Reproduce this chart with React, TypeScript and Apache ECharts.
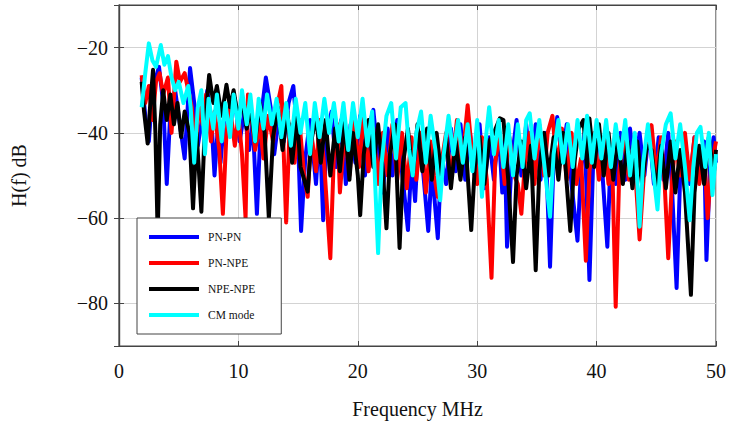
import React, { useEffect, useRef } from "react";
import * as echarts from "echarts";

// Transfer-function magnitude H(f) in dB versus frequency (MHz), as [f, dB] pairs.
const seriesNames = ["PN-PN", "PN-NPE", "NPE-NPE", "CM mode"];
const seriesColors = ["#0000ff", "#ff0000", "#000000", "#00ffff"];

const pnPn: [number, number][] = [
  [1.9, -27], [2.2, -36], [2.5, -42], [2.8, -30], [3.35, -24.5], [3.7, -33], [4.0, -52], [4.3, -35],
  [4.7, -30], [5.1, -38], [5.5, -46], [5.95, -24.8], [6.3, -33], [6.6, -43], [7.0, -36], [7.4, -30],
  [7.8, -40], [8.0, -50], [8.3, -38], [8.5, -47], [8.9, -34], [9.3, -38], [9.7, -32], [10.1, -42],
  [10.5, -35], [10.9, -44], [11.2, -37], [11.55, -59], [11.9, -36], [12.3, -27], [12.7, -34], [13.0, -45],
  [13.4, -36], [13.8, -42], [14.2, -33], [14.6, -29], [15.0, -42], [15.25, -63], [15.6, -46], [16.0, -37],
  [16.5, -52], [16.8, -38], [17.1, -60.5], [17.4, -40], [17.8, -35], [18.2, -48], [18.6, -37], [19.0, -52],
  [19.4, -38], [19.8, -47], [20.2, -36], [20.6, -50], [21.0, -38], [21.3, -34.6], [21.7, -46], [22.1, -54],
  [22.5, -39], [22.9, -50], [23.3, -37], [23.7, -49], [24.2, -62.8], [24.5, -46], [24.8, -56], [25.1, -40],
  [25.5, -50], [25.9, -63], [26.2, -48], [26.7, -64.7], [27.0, -46], [27.4, -52], [27.8, -39], [28.2, -49],
  [28.6, -38], [29.0, -51], [29.4, -40], [29.8, -50], [30.2, -38], [30.6, -53], [31.0, -41], [31.4, -51],
  [31.8, -39], [32.1, -54], [32.3, -42], [32.5, -66.7], [32.9, -46], [33.3, -37], [33.7, -50], [34.1, -38],
  [34.5, -49], [34.9, -38], [35.3, -51], [35.7, -40], [36.1, -71.4], [36.4, -46], [36.7, -36.3], [37.1, -46],
  [37.5, -38], [37.9, -52], [38.4, -65.3], [38.7, -48], [39.0, -40], [39.4, -74.5], [39.7, -48], [40.1, -39],
  [40.5, -50], [40.9, -66.7], [41.2, -44], [41.6, -52], [42.0, -40], [42.4, -51], [42.8, -39], [43.2, -49],
  [43.6, -40], [44.0, -50], [44.4, -39], [44.8, -52], [45.2, -41], [45.6, -51], [46.0, -40], [46.3, -52],
  [46.7, -76.4], [47.0, -50], [47.4, -42], [47.8, -52], [48.2, -41], [48.6, -50], [49.0, -42], [49.2, -69.8],
  [49.5, -48], [49.8, -41], [50.0, -47],
];

const pnNpe: [number, number][] = [
  [1.9, -26.5], [2.2, -33], [2.5, -29], [2.8, -37], [3.1, -28], [3.4, -26], [3.7, -31], [4.1, -27],
  [4.4, -40], [4.8, -23.3], [5.1, -28], [5.5, -26], [5.8, -30], [6.1, -34], [6.4, -45], [6.7, -33],
  [7.0, -38], [7.3, -31], [7.7, -42], [8.0, -35], [8.4, -44], [8.7, -59], [9.0, -40], [9.3, -34],
  [9.7, -43], [10.0, -36], [10.3, -45], [10.6, -60], [10.8, -31], [11.1, -36], [11.4, -44], [11.8, -38],
  [12.1, -46], [12.5, -36], [12.9, -42], [13.3, -33], [13.6, -29], [14.0, -61], [14.3, -38], [14.7, -47],
  [15.1, -37], [15.5, -50], [15.8, -55], [16.1, -40], [16.5, -49], [16.8, -37], [17.2, -48], [17.7, -69.4],
  [18.0, -45], [18.3, -38], [18.5, -54], [18.9, -40], [19.3, -50], [19.7, -37], [20.1, -48], [20.5, -36],
  [20.9, -49], [21.3, -39], [21.7, -52], [22.1, -40], [22.5, -50], [22.9, -38], [23.3, -51], [23.7, -40],
  [24.1, -53], [24.5, -41], [24.9, -51], [25.3, -40], [25.7, -54], [26.1, -42], [26.4, -50], [26.7, -55],
  [27.0, -47], [27.4, -40], [27.8, -51], [28.3, -37], [28.7, -48], [29.2, -33.5], [29.6, -46], [30.0, -52],
  [30.4, -41], [30.8, -51], [31.2, -74], [31.5, -47], [31.9, -40], [32.3, -52], [32.7, -41], [33.1, -50],
  [33.4, -52], [33.7, -59], [34.0, -47], [34.4, -40], [34.8, -52], [35.2, -38], [35.6, -50], [35.9, -40],
  [36.3, -36], [36.7, -48], [37.1, -39], [37.5, -51], [37.9, -40], [38.3, -52], [38.7, -46], [39.1, -70],
  [39.4, -49], [39.8, -40], [40.2, -51], [40.6, -41], [41.0, -52], [41.3, -46], [41.6, -80.8], [41.9, -49],
  [42.3, -40], [42.7, -51], [43.1, -43], [43.6, -65], [44.0, -48], [44.3, -40], [44.6, -38.2], [45.0, -50],
  [45.4, -41], [45.7, -52], [46.0, -69.4], [46.3, -52], [46.6, -42], [47.0, -50], [47.4, -40], [47.8, -51],
  [48.2, -41], [48.6, -52], [49.0, -44], [49.3, -60], [49.6, -48], [50.0, -42],
];

const npeNpe: [number, number][] = [
  [1.9, -28], [2.1, -35], [2.4, -42.5], [2.6, -34], [2.85, -25.2], [3.05, -40], [3.24, -64], [3.45, -38],
  [3.7, -30], [4.0, -37], [4.3, -31], [4.6, -38], [4.9, -33], [5.2, -41], [5.5, -35], [5.9, -40],
  [6.2, -57.7], [6.5, -40], [6.9, -58.5], [7.2, -38], [7.55, -26.4], [7.9, -33], [8.2, -29], [8.6, -36],
  [9.0, -28.7], [9.3, -34], [9.6, -30], [10.0, -37], [10.3, -32], [10.7, -39], [11.0, -34], [11.4, -42],
  [11.8, -33], [12.2, -40], [12.55, -60], [12.9, -41], [13.3, -34], [13.7, -44], [14.1, -35], [14.5, -47],
  [14.9, -36], [15.2, -48], [15.8, -53.8], [16.1, -42], [16.5, -36], [16.9, -47], [17.3, -37], [17.7, -50],
  [18.1, -39], [18.5, -49], [18.9, -37], [19.3, -51], [19.6, -40], [20.0, -50], [20.2, -59.3], [20.5, -45],
  [20.9, -37], [21.3, -48], [21.7, -38], [22.1, -49], [22.4, -62.4], [22.7, -45], [23.1, -38], [23.5, -67],
  [23.8, -47], [24.2, -39], [24.6, -50], [25.0, -38], [25.4, -49], [25.8, -39], [26.2, -51], [26.6, -40],
  [27.0, -50], [27.4, -41], [27.8, -53], [28.2, -42], [28.6, -51], [29.0, -41], [29.5, -62.8], [29.8, -48],
  [30.2, -41], [30.6, -52], [31.0, -42], [31.4, -40], [31.9, -36.6], [32.2, -37], [32.6, -51], [33.0, -70.3],
  [33.3, -50], [33.7, -42], [34.1, -53], [34.5, -43], [34.9, -72.2], [35.2, -49], [35.6, -40], [36.0, -50],
  [36.4, -41], [36.8, -51], [37.2, -40], [37.5, -52], [37.8, -63], [38.1, -48], [38.5, -39], [38.9, -37],
  [39.2, -48], [39.4, -36.6], [39.8, -48], [40.2, -38], [40.6, -50], [41.0, -40], [41.4, -51], [41.8, -41],
  [42.2, -52], [42.6, -42], [43.0, -53], [43.4, -42], [43.8, -52], [44.2, -43], [44.6, -44], [45.0, -54],
  [45.4, -43], [45.8, -53], [46.2, -42], [46.6, -54], [47.0, -44], [47.4, -54], [47.9, -78], [48.2, -54],
  [48.6, -43], [49.0, -52], [49.4, -41], [49.8, -50], [50.0, -44],
];

const cmMode: [number, number][] = [
  [1.9, -34], [2.2, -26], [2.5, -19], [2.8, -23], [3.1, -24.5], [3.5, -19.4], [3.8, -24], [4.1, -22],
  [4.4, -27], [4.7, -30], [5.0, -28], [5.4, -33], [5.8, -29], [6.0, -34], [6.3, -47], [6.6, -34],
  [6.9, -30], [7.2, -45], [7.5, -32], [7.9, -39], [8.2, -31], [8.6, -42], [8.9, -33], [9.3, -41],
  [9.6, -31], [10.0, -39], [10.3, -30], [10.7, -38], [11.0, -31], [11.4, -42], [11.7, -32], [12.1, -39],
  [12.4, -31], [12.8, -38], [13.2, -32], [13.6, -41], [14.0, -33], [14.4, -43], [14.8, -32], [15.2, -40],
  [15.6, -33], [16.0, -45], [16.4, -33], [16.8, -41], [17.2, -32], [17.6, -40], [18.0, -33], [18.4, -42],
  [18.8, -33], [19.2, -44], [19.6, -33], [20.0, -41], [20.4, -32], [20.8, -43], [21.2, -35], [21.7, -68.2],
  [22.0, -47], [22.4, -36], [22.8, -33], [23.2, -46], [23.6, -34], [24.0, -33], [24.3, -44], [24.6, -50],
  [24.9, -40], [25.3, -35], [25.7, -47], [26.1, -36], [26.5, -44], [26.9, -55.8], [27.2, -45], [27.6, -36],
  [28.0, -45], [28.4, -37], [28.8, -47], [29.2, -38], [29.6, -49], [30.0, -37], [30.4, -55], [30.7, -42],
  [31.0, -34], [31.4, -45], [31.8, -37], [32.2, -48], [32.6, -38], [33.0, -50], [33.4, -38], [33.8, -48],
  [34.1, -37], [34.4, -35.4], [34.8, -46], [35.2, -37], [35.6, -47], [36.1, -59.7], [36.4, -45], [36.8, -37],
  [37.2, -47], [37.6, -38], [38.0, -48], [38.4, -37], [38.8, -46], [39.2, -36], [39.6, -47], [40.0, -37],
  [40.4, -46], [40.8, -37], [41.2, -48], [41.6, -38], [42.0, -46], [42.4, -37], [42.8, -50], [43.2, -40],
  [43.6, -62], [43.9, -47], [44.3, -38], [44.7, -48], [45.1, -58], [45.4, -45], [45.8, -38], [46.2, -35.4],
  [46.6, -46], [47.0, -38], [47.4, -48], [47.8, -60.5], [48.1, -48], [48.4, -40], [48.7, -38.6], [49.1, -48],
  [49.4, -40], [49.7, -54.6], [50.0, -45],
];

const seriesData = [pnPn, pnNpe, npeNpe, cmMode];

const xRange = { min: 0, max: 50, step: 10 };
const yRange = { min: -90, max: -10 };

const FONT = "Liberation Serif";
const minusFmt = (v: number) => (v < 0 ? "\u2212" + Math.abs(v) : String(v));

export default function App() {
  const ref = useRef<HTMLDivElement>(null);

  useEffect(() => {
    if (!ref.current) return;
    const chart = echarts.init(ref.current, null, { renderer: "svg" });

    const tickStyle = { inside: true, length: 5, lineStyle: { color: "#444", width: 1 } };
    const gridLine = { show: true, lineStyle: { color: "#d3d3d3", width: 1 } };
    const axisLine = { show: true, lineStyle: { color: "#444", width: 1.2 } };

    chart.setOption({
      animation: false,
      backgroundColor: "#ffffff",
      grid: {
        left: 119, right: 22, top: 5, bottom: 79,
        show: true, borderColor: "#444", borderWidth: 1.2, backgroundColor: "transparent",
      },
      legend: {
        data: seriesNames,
        orient: "vertical",
        left: 137,
        top: 218,
        icon: "rect",
        itemWidth: 50,
        itemHeight: 4,
        itemGap: 14,
        padding: [13, 26, 13, 12],
        backgroundColor: "#ffffff",
        borderColor: "#444",
        borderWidth: 1,
        borderRadius: 0,
        textStyle: { fontFamily: FONT, fontSize: 11.5, color: "#111", padding: [0, 0, 0, 4] },
        z: 10,
      },
      xAxis: [
        {
          type: "value",
          min: xRange.min, max: xRange.max, interval: xRange.step,
          name: "Frequency MHz",
          nameLocation: "middle",
          nameGap: 53,
          nameTextStyle: { fontFamily: FONT, fontSize: 20, color: "#111" },
          axisLine, axisTick: tickStyle, splitLine: gridLine,
          axisLabel: { fontFamily: FONT, fontSize: 20, color: "#111", margin: 15, formatter: minusFmt },
        },
        {
          type: "value", position: "top",
          min: xRange.min, max: xRange.max, interval: xRange.step,
          axisLine, axisTick: tickStyle, splitLine: { show: false }, axisLabel: { show: false },
        },
      ],
      yAxis: [
        {
          type: "value",
          min: yRange.min, max: yRange.max, splitNumber: 4,
          name: "H(f) dB",
          nameLocation: "middle",
          nameGap: 90,
          nameTextStyle: { fontFamily: FONT, fontSize: 20, color: "#111" },
          axisLine, axisTick: tickStyle, splitLine: gridLine,
          axisLabel: {
            fontFamily: FONT, fontSize: 20, color: "#111", margin: 11,
            showMinLabel: false, showMaxLabel: false, formatter: minusFmt,
          },
        },
        {
          type: "value", position: "right",
          min: yRange.min, max: yRange.max, splitNumber: 4,
          axisLine, axisTick: tickStyle, splitLine: { show: false }, axisLabel: { show: false },
        },
      ],
      series: seriesData.map((data, i) => ({
        name: seriesNames[i],
        type: "line",
        data,
        xAxisIndex: 0,
        yAxisIndex: 0,
        showSymbol: false,
        symbol: "none",
        color: seriesColors[i],
        lineStyle: { color: seriesColors[i], width: 4, join: "round" },
        z: 2 + i,
      })),
    });

    return () => chart.dispose();
  }, []);

  return (
    <div
      ref={ref}
      style={{ position: "fixed", left: 0, top: 0, width: 738, height: 425 }}
    />
  );
}
